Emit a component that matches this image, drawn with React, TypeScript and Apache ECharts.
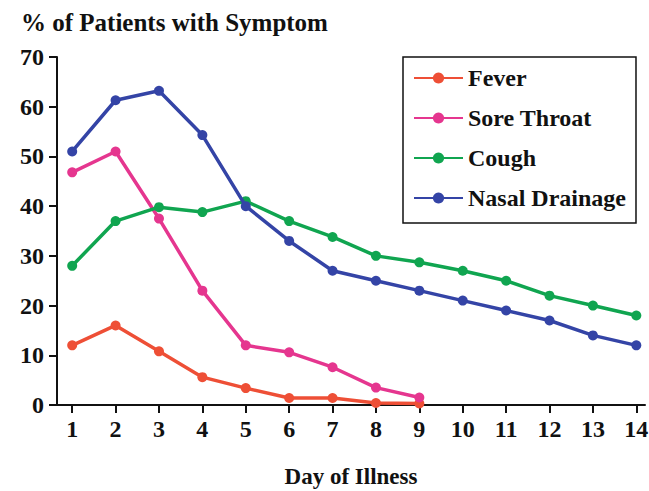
import React, { useEffect, useRef } from "react";
import * as echarts from "echarts";

const days = [1, 2, 3, 4, 5, 6, 7, 8, 9, 10, 11, 12, 13, 14];
const feverValues = [12, 16, 10.8, 5.6, 3.4, 1.4, 1.4, 0.4, 0.3];
const soreThroatValues = [46.8, 51, 37.5, 23, 12, 10.6, 7.6, 3.5, 1.5];
const coughValues = [28, 37, 39.8, 38.8, 41, 37, 33.8, 30, 28.7, 27, 25, 22, 20, 18];
const nasalValues = [51, 61.3, 63.2, 54.3, 40, 33, 27, 25, 23, 21, 19, 17, 14, 12];
const yTicks = [0, 10, 20, 30, 40, 50, 60, 70];

const seriesNames = ["Fever", "Sore Throat", "Cough", "Nasal Drainage"];
const seriesColors = ["#EE4F36", "#E5368F", "#10A550", "#3444A6"];
const seriesValues = [feverValues, soreThroatValues, coughValues, nasalValues];

const FONT = "'Liberation Serif', 'Times New Roman', serif";

export default function App() {
  const ref = useRef<HTMLDivElement>(null);
  useEffect(() => {
    if (!ref.current) return;
    const chart = echarts.init(ref.current, null, { renderer: "svg" });
    chart.setOption({
      animation: false,
      backgroundColor: "#ffffff",
      title: {
        text: "% of Patients with Symptom",
        left: 16,
        top: 5,
        textStyle: { fontFamily: FONT, fontWeight: "bold", fontSize: 25, color: "#111" },
      },
      legend: {
        orient: "vertical",
        left: 403,
        top: 57,
        padding: [9, 10, 13, 10],
        itemGap: 16,
        itemWidth: 49,
        itemHeight: 14,
        borderColor: "#111",
        borderWidth: 1.5,
        data: seriesNames,
        textStyle: { fontFamily: FONT, fontWeight: "bold", fontSize: 24, color: "#111", lineHeight: 24 },
      },
      grid: { left: 57, right: 4, top: 57, bottom: 86, containLabel: false, outerBoundsMode: "none" },
      xAxis: {
        type: "value",
        min: 0.65,
        max: 14.2,
        name: "Day of Illness",
        nameLocation: "middle",
        nameGap: 60,
        nameTextStyle: { fontFamily: FONT, fontWeight: "bold", fontSize: 23, color: "#111" },
        axisLine: { show: true, lineStyle: { color: "#111", width: 2 } },
        axisTick: { show: true, length: 8, customValues: days, lineStyle: { color: "#111", width: 2 } },
        axisLabel: {
          customValues: days,
          margin: 12,
          fontFamily: FONT,
          fontWeight: "bold",
          fontSize: 24,
          color: "#111",
        },
        splitLine: { show: false },
      },
      yAxis: {
        type: "value",
        min: 0,
        max: 70,
        interval: 10,
        axisLine: { show: true, lineStyle: { color: "#111", width: 2 } },
        axisTick: { show: true, length: 8, lineStyle: { color: "#111", width: 2 } },
        axisLabel: {
          customValues: yTicks,
          margin: 13,
          fontFamily: FONT,
          fontWeight: "bold",
          fontSize: 24,
          color: "#111",
        },
        splitLine: { show: false },
      },
      series: seriesNames.map((name, i) => ({
        name,
        type: "line",
        data: seriesValues[i].map((v, j) => [days[j], v]),
        symbol: "circle",
        symbolSize: 10,
        lineStyle: { width: 3.5, color: seriesColors[i] },
        itemStyle: { color: seriesColors[i] },
        z: 2 + i,
      })),
    });
    return () => chart.dispose();
  }, []);
  return <div ref={ref} style={{ width: 649, height: 491, position: "absolute", left: 0, top: 0 }} />;
}
